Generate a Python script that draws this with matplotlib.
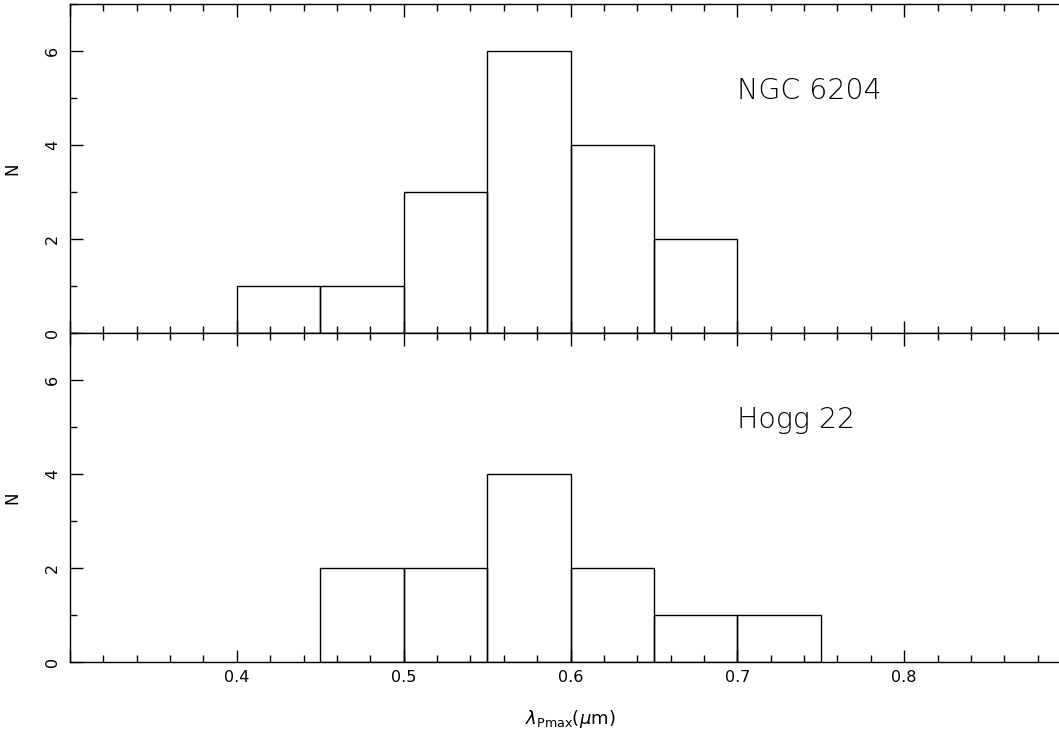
import matplotlib
matplotlib.use("Agg")
import matplotlib.pyplot as plt
from matplotlib.ticker import MultipleLocator, FuncFormatter

bin_edges_left = [0.40, 0.45, 0.50, 0.55, 0.60, 0.65, 0.70]
bin_width = 0.05
ngc6204_counts = [1, 1, 3, 6, 4, 2, 0]
hogg22_counts = [0, 2, 2, 4, 2, 1, 1]
panel_labels = ["NGC 6204", "Hogg 22"]
x_tick_labels = ["0.4", "0.5", "0.6", "0.7", "0.8"]

fig = plt.figure(figsize=(10.59, 7.42), dpi=100)
left = 70 / 1059
width = (1071 - 70) / 1059
ax_top = fig.add_axes([left, 1 - 333 / 742, width, (333 - 4) / 742])
ax_bot = fig.add_axes([left, 1 - 662 / 742, width, (662 - 333) / 742])


def xfmt(v, pos):
    s = f"{v:.1f}"
    return s if s in x_tick_labels else ""


for ax, counts, label in [(ax_top, ngc6204_counts, panel_labels[0]),
                          (ax_bot, hogg22_counts, panel_labels[1])]:
    xs = [x for x, c in zip(bin_edges_left, counts) if c > 0]
    cs = [c for c in counts if c > 0]
    ax.bar(xs, cs, width=bin_width, align="edge", fill=False,
           edgecolor="black", linewidth=1.0)
    ax.set_xlim(0.3, 0.9)
    ax.set_ylim(0, 7)
    ax.xaxis.set_major_locator(MultipleLocator(0.1))
    ax.xaxis.set_minor_locator(MultipleLocator(0.02))
    ax.xaxis.set_major_formatter(FuncFormatter(xfmt))
    ax.yaxis.set_major_locator(MultipleLocator(2))
    ax.yaxis.set_minor_locator(MultipleLocator(1))
    ax.tick_params(which="both", direction="in", top=True, right=False,
                   width=1.0, labelsize=11.5, colors="black")
    ax.tick_params(which="major", length=9)
    ax.tick_params(which="minor", length=5)
    for lbl in ax.get_yticklabels():
        lbl.set_rotation(90)
        lbl.set_va("center")
    ax.tick_params(axis="y", pad=7)
    ax.tick_params(axis="x", pad=6)
    ax.spines["right"].set_visible(False)
    for s in ax.spines.values():
        s.set_linewidth(1.0)
    ax.set_ylabel("N", fontsize=12)
    ax.yaxis.set_label_coords(-49 / 1001, 0.5)
    ax.text(0.70, 5.15, label, fontsize=20.5, va="center", ha="left",
            fontweight="light")

ax_top.tick_params(axis="x", labelbottom=False)
ax_bot.set_xlabel(r"$\lambda_{\rm Pmax}(\mu$m$)$", fontsize=13, labelpad=16)

fig.savefig("out.png", dpi=100)
